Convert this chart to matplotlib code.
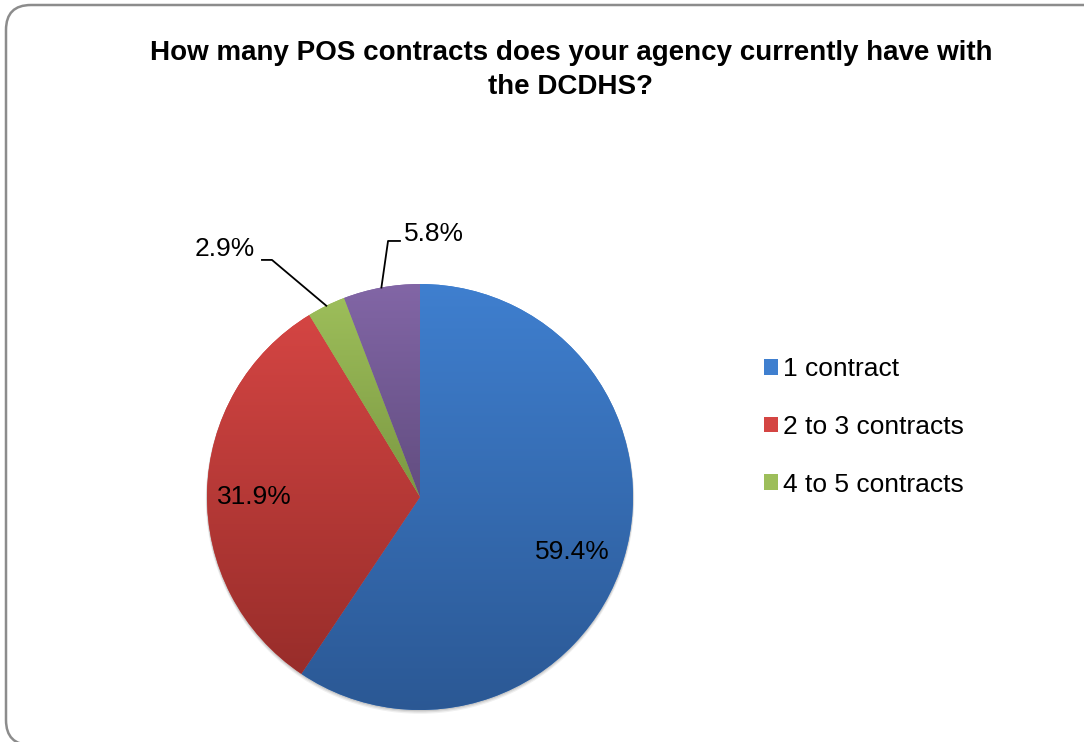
import numpy as np
import matplotlib.pyplot as plt
from matplotlib.colors import LinearSegmentedColormap
from matplotlib.patches import FancyBboxPatch

plt.rcParams['font.family'] = ['Liberation Sans', 'DejaVu Sans']

# data
categories = ["1 contract", "2 to 3 contracts", "4 to 5 contracts", "6 or more contracts"]
shares = [59.4, 31.9, 2.9, 5.8]
light = ["#3f7fcf", "#d44543", "#9dbe5a", "#8266a6"]
dark = ["#2b5894", "#982d2a", "#7b9842", "#624d80"]
title = "How many POS contracts does your agency currently have with\nthe DCDHS?"

W, H = 1084, 742
fig = plt.figure(figsize=(W / 100, H / 100), dpi=100)

# rounded chart frame
frame = FancyBboxPatch((6 / W, 0.0 - 3 / H), 1.2, 1 - 5 / H + 3 / H,
                       boxstyle="round,pad=0,rounding_size=0.023",
                       transform=fig.transFigure, facecolor="none",
                       edgecolor="#8c8c8c", linewidth=1.8, mutation_aspect=W / H,
                       zorder=-10)
fig.patches.append(frame)

fig.text(571 / W, 1 - 70 / H, title, ha="center", va="center",
         fontsize=20, fontweight="bold", linespacing=1.4)

# pie centre (420, 497) px, radius 213 px
cx, cy, r = 420, 497, 213
ax = fig.add_axes([(cx - r) / W, (H - cy - r) / H, 2 * r / W, 2 * r / H])
wedges, _ = ax.pie(shares, startangle=90, counterclock=False, radius=1,
                   colors=light, wedgeprops=dict(linewidth=0))
ax.set_aspect("equal")
ax.axis("off")

# soft shadow under the pie
for k, a in zip([0.012, 0.008, 0.004], [0.06, 0.08, 0.1]):
    ax.add_patch(plt.Circle((0, -k), 1.0 + k / 2, color="black", alpha=a,
                            lw=0, zorder=0.5, clip_on=False))

# vertical gradient per slice
grad = np.linspace(1, 0, 256).reshape(-1, 1)
for w, c1, c2 in zip(wedges, light, dark):
    v = w.get_path().vertices
    y0, y1 = v[:, 1].min(), v[:, 1].max()
    cmap = LinearSegmentedColormap.from_list("g", [c2, c1])
    im = ax.imshow(grad, cmap=cmap, extent=[-1, 1, y0, y1], aspect="auto",
                   origin="upper", zorder=2)
    im.set_clip_path(w)
ax.set_xlim(-1, 1)
ax.set_ylim(-1, 1)

# data labels
lab_fs = 19
ax.text(0.714, -0.258, f"{shares[0]}%", ha="center", va="center", fontsize=lab_fs, zorder=5)
ax.text(-0.779, 0.0, f"{shares[1]}%", ha="center", va="center", fontsize=lab_fs, zorder=5)

cum = np.cumsum(shares) - np.array(shares) / 2
mid_ang = np.deg2rad(90 - 360 * cum / sum(shares))

# 2.9% with leader
ax.text(-0.915, 1.164, f"{shares[2]}%", ha="center", va="center", fontsize=lab_fs,
        clip_on=False, zorder=5)
ex, ey = np.cos(mid_ang[2]), np.sin(mid_ang[2])
ax.plot([-0.742, -0.695, ex], [1.113, 1.113, ey], color="black", lw=1.3,
        clip_on=False, zorder=5)

# 5.8% with leader
ax.text(0.066, 1.235, f"{shares[3]}%", ha="center", va="center", fontsize=lab_fs,
        clip_on=False, zorder=5)
ex, ey = np.cos(mid_ang[3]), np.sin(mid_ang[3])
ax.plot([-0.094, -0.150, ex], [1.202, 1.202, ey], color="black", lw=1.3,
        clip_on=False, zorder=5)

# legend (only first three entries are visible in the original)
leg = fig.legend(wedges[:3], categories[:3], loc="center left",
                 bbox_to_anchor=(764 / W, 1 - 427 / H), frameon=False,
                 fontsize=lab_fs, handlelength=0.53, handleheight=0.53,
                 handletextpad=0.2, labelspacing=1.27, borderpad=0, borderaxespad=0)
for h, c1, c2 in zip(leg.legend_handles, light, dark):
    h.set_facecolor(c1)

fig.savefig("out.png", dpi=100)
